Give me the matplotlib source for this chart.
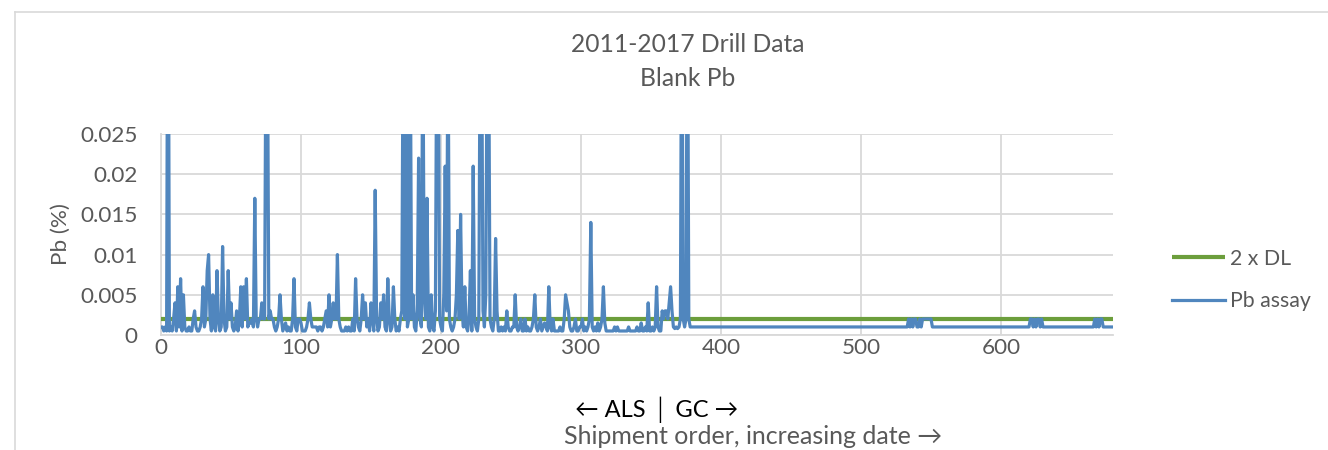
import matplotlib
matplotlib.use("Agg")
import matplotlib.pyplot as plt
from matplotlib.lines import Line2D
from matplotlib.ticker import FuncFormatter, FixedLocator

plt.rcParams['font.family'] = ['Lato', 'DejaVu Sans']

# ---- data ----
# ALS period, shipment order 0..377 (values above 0.025 are off-scale in the picture)
als_pb = [
    0.001, 0.001, 0.0005, 0.001, 0.0005, 0.06, 0.0005, 0.001, 0.0005, 0.002,
    0.004, 0.0005, 0.006, 0.001, 0.007, 0.0005, 0.005, 0.001, 0.0005, 0.0005,
    0.001, 0.0005, 0.0005, 0.002, 0.003, 0.001, 0.0005, 0.0005, 0.001, 0.002,
    0.006, 0.001, 0.002, 0.008, 0.010, 0.002, 0.0005, 0.005, 0.001, 0.0005,
    0.008, 0.002, 0.0005, 0.001, 0.011, 0.002, 0.0005, 0.001, 0.008, 0.002,
    0.004, 0.001, 0.0005, 0.001, 0.003, 0.0005, 0.002, 0.006, 0.001, 0.006,
    0.002, 0.007, 0.001, 0.0015, 0.0015, 0.002, 0.001, 0.017, 0.002, 0.001,
    0.002, 0.002, 0.004, 0.002, 0.002, 0.04, 0.04, 0.002, 0.003, 0.002,
    0.002, 0.001, 0.0005, 0.001, 0.002, 0.005, 0.002, 0.0005, 0.001, 0.0015,
    0.0005, 0.001, 0.0005, 0.0005, 0.002, 0.007, 0.001, 0.0005, 0.002, 0.002,
    0.0015, 0.0005, 0.0005, 0.0005, 0.001, 0.002, 0.004, 0.002, 0.001, 0.001,
    0.001, 0.001, 0.0005, 0.001, 0.001, 0.0005, 0.001, 0.002, 0.003, 0.001,
    0.005, 0.001, 0.002, 0.004, 0.002, 0.002, 0.010, 0.002, 0.001, 0.0005,
    0.0005, 0.0005, 0.001, 0.0005, 0.001, 0.0005, 0.0005, 0.002, 0.0005, 0.007,
    0.002, 0.001, 0.0005, 0.002, 0.005, 0.002, 0.004, 0.001, 0.002, 0.0005,
    0.004, 0.002, 0.0005, 0.018, 0.002, 0.0005, 0.001, 0.004, 0.002, 0.005,
    0.001, 0.0005, 0.007, 0.002, 0.0005, 0.001, 0.006, 0.002, 0.0005, 0.001,
    0.0005, 0.002, 0.003, 0.04, 0.002, 0.05, 0.001, 0.002, 0.04, 0.002,
    0.005, 0.001, 0.0005, 0.003, 0.022, 0.002, 0.001, 0.04, 0.005, 0.002,
    0.017, 0.001, 0.0005, 0.005, 0.001, 0.0005, 0.003, 0.04, 0.04, 0.002,
    0.001, 0.0005, 0.005, 0.021, 0.003, 0.04, 0.002, 0.001, 0.0005, 0.001,
    0.002, 0.005, 0.013, 0.002, 0.015, 0.003, 0.001, 0.006, 0.001, 0.0005,
    0.002, 0.008, 0.0005, 0.021, 0.002, 0.001, 0.0005, 0.002, 0.04, 0.04,
    0.003, 0.001, 0.005, 0.04, 0.04, 0.002, 0.001, 0.0005, 0.002, 0.012,
    0.003, 0.0005, 0.0005, 0.001, 0.0005, 0.001, 0.0005, 0.003, 0.001, 0.0005,
    0.0005, 0.001, 0.001, 0.005, 0.001, 0.0005, 0.001, 0.002, 0.0005, 0.0005,
    0.002, 0.0005, 0.001, 0.0005, 0.0005, 0.001, 0.002, 0.005, 0.001, 0.0005,
    0.001, 0.002, 0.0005, 0.001, 0.0015, 0.001, 0.0005, 0.006, 0.001, 0.0005,
    0.002, 0.0005, 0.0005, 0.0005, 0.0005, 0.001, 0.0005, 0.0005, 0.002, 0.005,
    0.004, 0.003, 0.001, 0.0005, 0.0005, 0.001, 0.002, 0.0005, 0.0005, 0.001,
    0.001, 0.002, 0.0005, 0.001, 0.0005, 0.001, 0.002, 0.014, 0.001, 0.0005,
    0.001, 0.0005, 0.0015, 0.0005, 0.001, 0.002, 0.006, 0.0015, 0.0005, 0.0005,
    0.0005, 0.0005, 0.0005, 0.0005, 0.001, 0.0005, 0.001, 0.0005, 0.0005, 0.0005,
    0.0005, 0.0005, 0.0005, 0.0005, 0.001, 0.0005, 0.0005, 0.0005, 0.0005, 0.0005,
    0.001, 0.0005, 0.0005, 0.0015, 0.0005, 0.0005, 0.001, 0.0005, 0.004, 0.0005,
    0.0005, 0.001, 0.0005, 0.001, 0.006, 0.001, 0.0005, 0.0005, 0.003, 0.002,
    0.003, 0.003, 0.002, 0.004, 0.006, 0.003, 0.001, 0.0008, 0.001, 0.0008,
    0.001, 0.002, 0.05, 0.002, 0.001, 0.002, 0.05, 0.002,
]
# GC period, shipment order 378..680 (flat runs at 0.001 with a few 0.002 blips)
gc_pb = (
    [0.001] * 156
    + [0.002, 0.001, 0.002, 0.001, 0.002, 0.002, 0.001, 0.001, 0.002, 0.001,
       0.002, 0.002, 0.002, 0.002, 0.002, 0.002, 0.002, 0.001]
    + [0.001] * 69
    + [0.002, 0.002, 0.001, 0.002, 0.001, 0.002, 0.002, 0.001, 0.002, 0.001]
    + [0.001] * 36
    + [0.002, 0.001, 0.002, 0.001, 0.002, 0.002, 0.001]
    + [0.001] * 6
)
pb_assay = als_pb + gc_pb
shipment = list(range(len(pb_assay)))

dl_x = [0, 680]
dl_y = [0.002, 0.002]

x_ticks = [0, 100, 200, 300, 400, 500, 600]
y_ticks = [0, 0.005, 0.01, 0.015, 0.02, 0.025]

title_lines = ["2011-2017 Drill Data", "Blank Pb"]

# ---- figure ----
W, H = 1328, 450
fig = plt.figure(figsize=(W / 100, H / 100), dpi=100)
ax = fig.add_axes([161 / W, 1 - 335 / H, (1113 - 161) / W, (335 - 134) / H])

grid_c = '#d9d9d9'
text_c = '#595959'

ax.plot(dl_x, dl_y, color='#6c9e3c', lw=3.0, label='2 x DL', solid_capstyle='butt', zorder=3)
ax.plot(shipment, pb_assay, color='#5086be', lw=2.3, label='Pb assay', zorder=4,
        solid_joinstyle='round')

ax.set_xlim(0, 680)
ax.set_ylim(0, 0.025)
ax.xaxis.set_major_locator(FixedLocator(x_ticks))
ax.yaxis.set_major_locator(FixedLocator(y_ticks))
ax.yaxis.set_major_formatter(FuncFormatter(lambda v, p: f"{v:g}"))
ax.grid(True, color=grid_c, lw=1.3)
ax.set_axisbelow(True)
for s in ['top', 'right']:
    ax.spines[s].set_visible(False)
for s in ['left', 'bottom']:
    ax.spines[s].set_color(grid_c)
    ax.spines[s].set_linewidth(1.3)
ax.tick_params(length=0, labelsize=16.2, labelcolor=text_c)
ax.tick_params(axis='y', pad=17)
ax.tick_params(axis='x', pad=2)

ax.set_ylabel("Pb (%)", fontsize=16.2, color=text_c)
ax.yaxis.set_label_coords((71 - 161) / 952, 0.5)

fig.text(688 / W, 1 - 45 / H, title_lines[0], ha='center', va='center', fontsize=17.7, color=text_c)
fig.text(688 / W, 1 - 78 / H, title_lines[1], ha='center', va='center', fontsize=17.7, color=text_c)

fig.text(657 / W, 1 - 410 / H, "← ALS │ GC →", ha='center', va='center', fontsize=17, color='#000000')
fig.text(753 / W, 1 - 437 / H, "Shipment order, increasing date →", ha='center', va='center',
         fontsize=18, color=text_c)

leg = ax.legend(handles=ax.get_lines()[:2], loc='center left',
                bbox_to_anchor=((1172 - 161) / 952, (335 - 280) / 201),
                frameon=False, fontsize=15.3, handlelength=2.5, labelspacing=1.05,
                handletextpad=0.25, borderpad=0, borderaxespad=0)
for t in leg.get_texts():
    t.set_color(text_c)

# chart-area border (partly visible)
fig.add_artist(Line2D([15 / W, 1], [1 - 12 / H, 1 - 12 / H], color=grid_c, lw=1.2, transform=fig.transFigure))
fig.add_artist(Line2D([15 / W, 15 / W], [0, 1 - 12 / H], color=grid_c, lw=1.2, transform=fig.transFigure))

fig.savefig("out.png", dpi=100)
